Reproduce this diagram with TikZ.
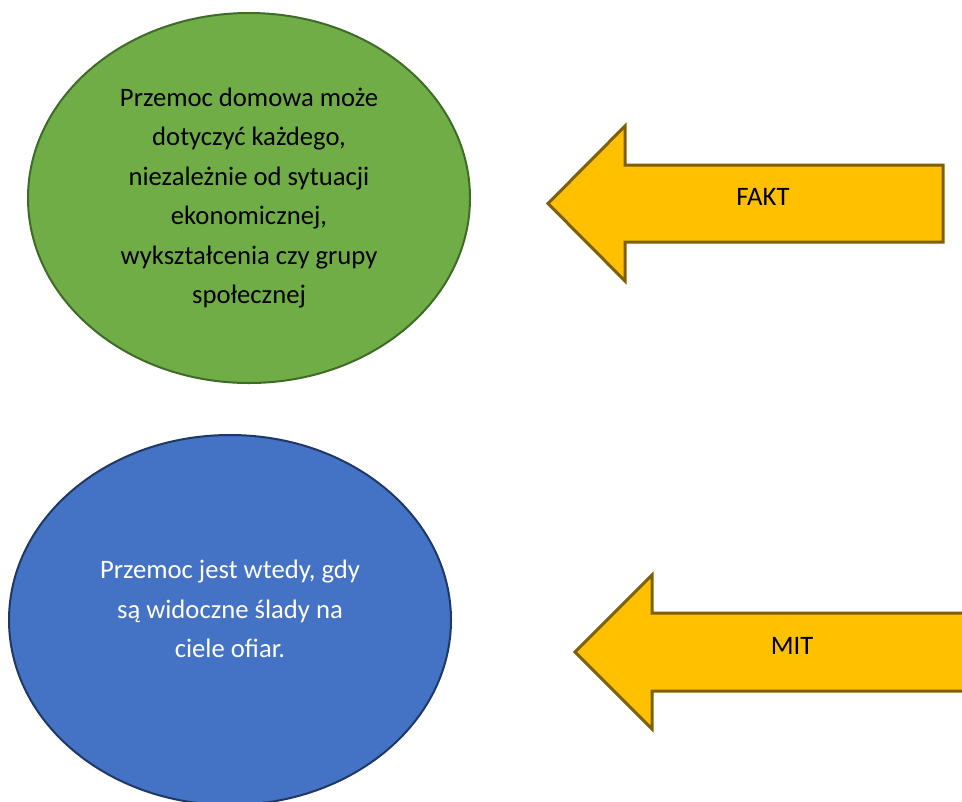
\documentclass[tikz,border=0pt]{standalone}
\usepackage{fontspec}
\setmainfont{Carlito}
\usetikzlibrary{shapes.geometric, positioning}
\definecolor{cgreen}{HTML}{70AD47}
\definecolor{cgreenline}{HTML}{3E6B27}
\definecolor{cblue}{HTML}{4472C4}
\definecolor{cblueline}{HTML}{1F3864}
\definecolor{cgold}{HTML}{FFC000}
\definecolor{cgoldline}{HTML}{7F6000}
\tikzset{
  bubble/.style={ellipse, draw=#1line, fill=#1, line width=1.5pt, minimum width=331.5pt, minimum height=277.5pt, inner sep=0pt},
  txt/.style={align=center, font=\fontsize{20}{29.6}\selectfont, text=#1},
  txt/.default=black,
  tag/.style={font=\fontsize{20}{24}\selectfont},
  pointer/.style={draw=cgoldline, fill=cgold, line width=2.25pt, line join=miter},
}

\begin{document}
\begin{tikzpicture}[x=0.75pt, y=-0.75pt]
  \useasboundingbox (0,0) rectangle (962,801);
  \clip (0,0) rectangle (962,801);
  % the two statements
  \node[bubble=cgreen] (fakt) at (249,198) {};
  \node[txt] (fakttxt) at (fakt.center) {Przemoc domowa może\\dotyczyć każdego,\\niezależnie od sytuacji\\ekonomicznej,\\wykształcenia czy grupy\\społecznej};
  \node[bubble=cblue] (mit) at (230,620) {};
  \node[txt=white] (mittxt) at (230,609) {Przemoc jest wtedy, gdy\\są widoczne ślady na\\ciele ofiar.};
  % the arrows pointing back at them
  \coordinate (fakttip) at (548,203.5);
  \draw[pointer] (fakttip) -- ++(77,-77.5) -- ++(0,39) -- ++(318,0) -- ++(0,77) -- ++(-318,0) -- ++(0,39) -- cycle;
  \node[tag] (faktlabel) at (763,197) {FAKT};
  \coordinate (mittip) at (575,652);
  \draw[pointer] (mittip) -- ++(77,-77) -- ++(0,38) -- ++(340,0) -- ++(0,78) -- ++(-340,0) -- ++(0,38) -- cycle;
  \node[tag] (mitlabel) at (792,646) {MIT};
\end{tikzpicture}
\end{document}
